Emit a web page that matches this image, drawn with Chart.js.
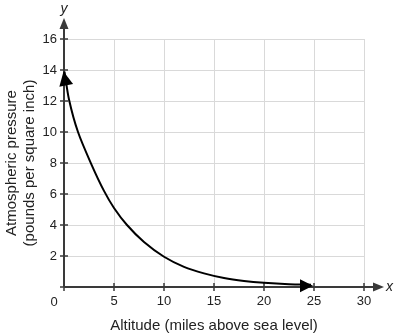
<!DOCTYPE html>
<html>
<head>
<meta charset="utf-8">
<script src="https://cdn.jsdelivr.net/npm/chart.js@4.4.1/dist/chart.umd.min.js"></script>
<style>
  html, body { margin: 0; padding: 0; background: #fff; }
  #wrap { width: 395px; height: 335px; }
</style>
</head>
<body>
<div id="wrap"><canvas id="chart" width="395" height="335"></canvas></div>
<script>
// values
const altitude = [0.05, 0.5, 1.4, 2.75, 4, 5, 6.3, 8, 10, 12, 14, 16, 18, 20, 22.5, 24.7];
const pressure = [13.9, 12.1, 10, 7.9, 6.2, 5.1, 4, 2.9, 1.95, 1.3, 0.88, 0.58, 0.39, 0.27, 0.18, 0.15];
const xTicks = [0, 5, 10, 15, 20, 25, 30];
const yTicks = [0, 2, 4, 6, 8, 10, 12, 14, 16];
const xTitle = "Altitude (miles above sea level)";
const yTitle = ["Atmospheric pressure", "(pounds per square inch)"];

const FONT = "'Liberation Sans', Arial, sans-serif";
const AXIS = "#3a3a3a";

function arrowHead(ctx, tipX, tipY, fromX, fromY, len, half) {
  const a = Math.atan2(tipY - fromY, tipX - fromX);
  ctx.save();
  ctx.translate(tipX, tipY);
  ctx.rotate(a);
  ctx.beginPath();
  ctx.moveTo(0, 0);
  ctx.lineTo(-len, -half);
  ctx.lineTo(-len, half);
  ctx.closePath();
  ctx.fill();
  ctx.restore();
}

const axesPlugin = {
  id: "axes",
  beforeDatasetsDraw(chart) {
    const { ctx, scales: { x, y } } = chart;
    const x0 = x.getPixelForValue(0);
    const y0 = y.getPixelForValue(0);
    ctx.save();
    ctx.strokeStyle = AXIS;
    ctx.fillStyle = AXIS;
    ctx.lineWidth = 2;
    // y axis
    ctx.beginPath();
    ctx.moveTo(x0, y0);
    ctx.lineTo(x0, 26);
    ctx.stroke();
    arrowHead(ctx, x0, 18, x0, 30, 11, 4.5);
    // x axis
    ctx.beginPath();
    ctx.moveTo(x0, y0);
    ctx.lineTo(376, y0);
    ctx.stroke();
    arrowHead(ctx, 384, y0, 370, y0, 11, 4.5);
    // tick marks
    ctx.lineWidth = 1.5;
    ctx.beginPath();
    xTicks.forEach(v => {
      const px = x.getPixelForValue(v);
      ctx.moveTo(px, y0 - 4);
      ctx.lineTo(px, y0 + 4);
    });
    yTicks.forEach(v => {
      const py = y.getPixelForValue(v);
      ctx.moveTo(x0 - 4, py);
      ctx.lineTo(x0 + 4, py);
    });
    ctx.stroke();
    // labels
    ctx.fillStyle = "#222";
    ctx.font = "13px " + FONT;
    ctx.textAlign = "center";
    ctx.textBaseline = "middle";
    ctx.fillText("0", x0 - 10, 302);
    ctx.font = "italic 14px " + FONT;
    ctx.fillText("y", x0, 9);
    ctx.textAlign = "left";
    ctx.fillText("x", 386, y0);
    ctx.restore();
  },
  afterDatasetsDraw(chart) {
    const { ctx } = chart;
    const pts = chart.getDatasetMeta(0).data;
    const n = pts.length;
    ctx.save();
    ctx.fillStyle = "#000";
    arrowHead(ctx, pts[0].x - 1, pts[0].y, pts[1].x, pts[1].y, 14, 7);
    arrowHead(ctx, pts[n - 1].x + 2, pts[n - 1].y + 1, pts[n - 2].x, pts[n - 1].y + 1, 13, 6.5);
    ctx.restore();
  }
};

new Chart(document.getElementById("chart"), {
  type: "scatter",
  data: {
    datasets: [{
      data: altitude.map((v, i) => ({ x: v, y: pressure[i] })),
      showLine: true,
      borderColor: "#000",
      borderWidth: 2,
      pointRadius: 0,
      tension: 0.3
    }]
  },
  options: {
    responsive: false,
    animation: false,
    layout: { padding: { left: 0, right: 31, top: 39, bottom: 0 } },
    plugins: { legend: { display: false }, tooltip: { enabled: false } },
    scales: {
      x: {
        type: "linear",
        min: 0,
        max: 30,
        afterFit(s) { s.height = 48; },
        ticks: {
          stepSize: 5,
          padding: 7,
          color: "#222",
          font: { size: 13, family: FONT },
          maxRotation: 0,
          callback: v => (v === 0 ? "" : v)
        },
        grid: { color: "#d9d9d9", lineWidth: 1, drawTicks: false },
        border: { display: false },
        title: {
          display: true,
          text: xTitle,
          color: "#222",
          font: { size: 15, family: FONT },
          padding: { top: 0, bottom: 0 }
        }
      },
      y: {
        min: 0,
        max: 16,
        afterFit(s) { s.width = 64; },
        ticks: {
          stepSize: 2,
          padding: 7,
          color: "#222",
          font: { size: 13, family: FONT },
          callback: v => (v === 0 ? "" : v)
        },
        grid: { color: "#d9d9d9", lineWidth: 1, drawTicks: false },
        border: { display: false },
        title: {
          display: true,
          text: yTitle,
          color: "#222",
          font: { size: 15, family: FONT, lineHeight: 1.25 },
          padding: { top: 2, bottom: 0 }
        }
      }
    }
  },
  plugins: [axesPlugin]
});
</script>
</body>
</html>
